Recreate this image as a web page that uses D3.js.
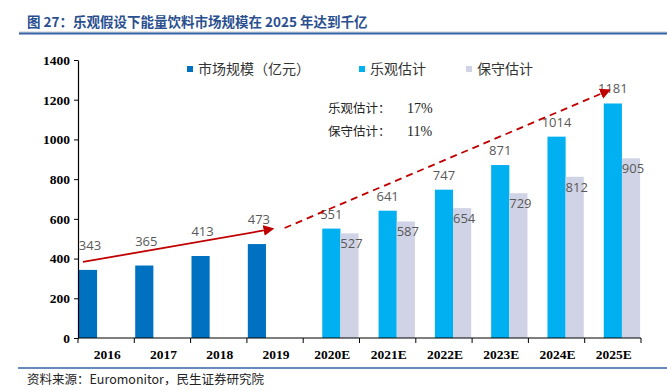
<!DOCTYPE html>
<html>
<head>
<meta charset="utf-8">
<script src="https://cdn.jsdelivr.net/npm/d3@7"></script>
<style>
  body { margin: 0; background: #fff; }
  svg { display: block; }
</style>
</head>
<body>
<script>
// energy drink market size chart, 2016-2025E

const categories = ['2016', '2017', '2018', '2019', '2020E', '2021E', '2022E', '2023E', '2024E', '2025E'];
const marketSize = [343, 365, 413, 473, null, null, null, null, null, null];
const optimistic = [null, null, null, null, 551, 641, 747, 871, 1014, 1181];
const conservative = [null, null, null, null, 527, 587, 654, 729, 812, 905];
const seriesNames = ['市场规模（亿元）', '乐观估计', '保守估计'];
const yTicks = [0, 200, 400, 600, 800, 1000, 1200, 1400];
const growthNames = ['乐观估计：', '保守估计：'];
const growthRates = ['17%', '11%'];

const width = 667, height = 391;
const colors = ['#0070C0', '#00B0F0', '#D0D3E6'];

const svg = d3.select('body').append('svg')
  .attr('width', width)
  .attr('height', height);

// title + rules
svg.append('text')
  .attr('x', 27).attr('y', 27)
  .attr('fill', '#2A4F8F')
  .style('font-family', '"Noto Sans CJK SC", sans-serif')
  .style('font-weight', 'bold')
  .style('font-size', '13.5px')
  .text('图 27：乐观假设下能量饮料市场规模在 2025 年达到千亿');

svg.append('line').attr('x1', 19).attr('x2', width).attr('y1', 32).attr('y2', 32)
  .attr('stroke', '#c8c8c8').attr('stroke-width', 1);
svg.append('line').attr('x1', 19).attr('x2', width).attr('y1', 33.5).attr('y2', 33.5)
  .attr('stroke', '#3563A8').attr('stroke-width', 2);

svg.append('line').attr('x1', 18).attr('x2', width).attr('y1', 368).attr('y2', 368)
  .attr('stroke', '#3563A8').attr('stroke-width', 1.5);

svg.append('text')
  .attr('x', 27).attr('y', 384)
  .attr('fill', '#222')
  .style('font-family', '"Noto Sans CJK SC", sans-serif')
  .style('font-size', '12.5px')
  .text('资料来源：Euromonitor，民生证券研究院');

// scales
const x0 = d3.scaleBand().domain(categories).range([78, 641]).padding(0);
const x1 = d3.scaleBand().domain(d3.range(3)).range([0, x0.bandwidth()]).paddingOuter(0.05).paddingInner(0);
const y = d3.scaleLinear().domain([0, 1400]).range([338, 60]);

const g = svg.append('g');

// bars
const allSeries = [marketSize, optimistic, conservative];
allSeries.forEach((vals, si) => {
  const pts = categories.map((c, i) => ({ c, v: vals[i] })).filter(d => d.v != null);
  g.selectAll('.bar' + si)
    .data(pts)
    .enter().append('rect')
    .attr('x', d => x0(d.c) + x1(si))
    .attr('y', d => y(d.v))
    .attr('width', x1.bandwidth())
    .attr('height', d => y(0) - y(d.v))
    .attr('fill', colors[si]);
});

// data labels
const labelOffset = [-20, -10, 15];
allSeries.forEach((vals, si) => {
  const pts = categories.map((c, i) => ({ c, v: vals[i] })).filter(d => d.v != null);
  g.selectAll('.lab' + si)
    .data(pts)
    .enter().append('text')
    .attr('x', d => x0(d.c) + x1(si) + x1.bandwidth() / 2 + (si === 2 ? 2 : 0) + (si === 0 ? 2 : 0))
    .attr('y', d => y(d.v) + labelOffset[si])
    .attr('text-anchor', 'middle')
    .attr('fill', '#595959')
    .style('font-family', '"Open Sans", sans-serif')
    .style('font-size', '13px')
    .text(d => d.v);
});

// y axis
const yAxis = d3.axisLeft(y).tickValues(yTicks).tickFormat(d3.format('d')).tickSize(4).tickSizeOuter(0);
const yg = svg.append('g').attr('transform', 'translate(78,0)').call(yAxis);
yg.select('.domain').attr('stroke', '#000').attr('stroke-width', 1.2);
yg.selectAll('.tick line').attr('stroke', '#000');
yg.selectAll('.tick text')
  .attr('x', -8)
  .attr('fill', '#000')
  .style('font-family', '"Liberation Serif", serif')
  .style('font-weight', 'bold')
  .style('font-size', '13.5px');

// x axis
const xg = svg.append('g');
xg.append('line').attr('x1', 78).attr('x2', 641).attr('y1', y(0)).attr('y2', y(0))
  .attr('stroke', '#000').attr('stroke-width', 1.2);
const bounds = categories.map(c => x0(c)).concat([x0.range()[1]]);
xg.selectAll('.xt').data(bounds).enter().append('line')
  .attr('x1', d => d).attr('x2', d => d)
  .attr('y1', y(0)).attr('y2', y(0) + 5)
  .attr('stroke', '#000');
xg.selectAll('.xl').data(categories).enter().append('text')
  .attr('x', d => x0(d) + x0.bandwidth() / 2 + 1)
  .attr('y', 359)
  .attr('text-anchor', 'middle')
  .attr('fill', '#000')
  .style('font-family', '"Liberation Serif", serif')
  .style('font-weight', 'bold')
  .style('font-size', '13.5px')
  .text(d => d);

// arrows
const defs = svg.append('defs');
defs.append('marker')
  .attr('id', 'arrowhead')
  .attr('viewBox', '0 0 10 10')
  .attr('refX', 8).attr('refY', 5)
  .attr('markerWidth', 6).attr('markerHeight', 6)
  .attr('markerUnits', 'strokeWidth')
  .attr('orient', 'auto')
  .append('path').attr('d', 'M0,0 L10,5 L0,10 z').attr('fill', '#C00000');

const bw = x0.bandwidth();
svg.append('line')
  .attr('x1', x0('2016') + 5).attr('y1', y(383))
  .attr('x2', x0('2019') + bw * 0.45).attr('y2', y(549))
  .attr('stroke', '#C00000').attr('stroke-width', 1.8)
  .attr('marker-end', 'url(#arrowhead)');

svg.append('line')
  .attr('x1', x0('2019') + bw * 0.67).attr('y1', y(554))
  .attr('x2', x0('2025E') + bw * 0.43).attr('y2', y(1247))
  .attr('stroke', '#C00000').attr('stroke-width', 1.8)
  .attr('stroke-dasharray', '7,5')
  .attr('marker-end', 'url(#arrowhead)');

// growth rate notes
growthNames.forEach((n, i) => {
  svg.append('text')
    .attr('x', 328).attr('y', 113 + i * 23)
    .attr('fill', '#222')
    .style('font-family', '"Noto Sans CJK SC", sans-serif')
    .style('font-size', '12.5px')
    .text(n);
  svg.append('text')
    .attr('x', 407).attr('y', 113 + i * 23)
    .attr('fill', '#222')
    .style('font-family', '"Liberation Serif", serif')
    .style('font-size', '14px')
    .text(growthRates[i]);
});

// legend
const legendX = [187, 359, 466];
seriesNames.forEach((n, i) => {
  svg.append('rect')
    .attr('x', legendX[i]).attr('y', 66)
    .attr('width', 6).attr('height', 6)
    .attr('fill', colors[i]);
  svg.append('text')
    .attr('x', legendX[i] + 11).attr('y', 74)
    .attr('fill', '#333')
    .style('font-family', '"Noto Sans CJK SC", sans-serif')
    .style('font-size', '14px')
    .text(n);
});
</script>
</body>
</html>
